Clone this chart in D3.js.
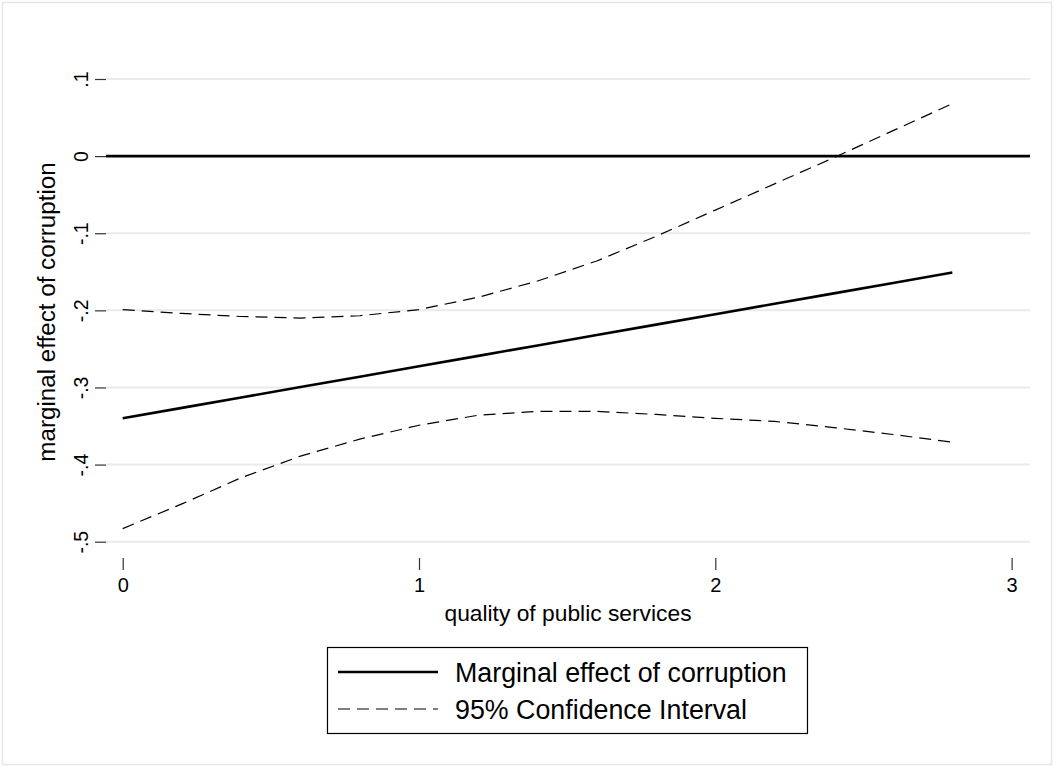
<!DOCTYPE html>
<html>
<head>
<meta charset="utf-8">
<script src="https://cdn.jsdelivr.net/npm/d3@7"></script>
<style>
  html, body { margin: 0; padding: 0; background: #fff; }
  svg { display: block; font-family: Arial, "Liberation Sans", Helvetica, sans-serif; }
</style>
</head>
<body>
<svg id="chart" width="1054" height="767"></svg>
<script>
// ---- data ----
const quality = [0, 0.2, 0.4, 0.6, 0.8, 1.0, 1.2, 1.4, 1.6, 1.8, 2.0, 2.2, 2.4, 2.6, 2.8];
const marginalEffect = [-0.340, -0.3265, -0.313, -0.2995, -0.286, -0.2725, -0.259, -0.2455, -0.232, -0.2185, -0.205, -0.1915, -0.178, -0.1645, -0.151];
const upperCI = [-0.199, -0.204, -0.208, -0.210, -0.207, -0.199, -0.183, -0.162, -0.136, -0.104, -0.070, -0.036, -0.002, 0.033, 0.068];
const lowerCI = [-0.483, -0.451, -0.417, -0.389, -0.367, -0.349, -0.336, -0.331, -0.331, -0.335, -0.340, -0.344, -0.352, -0.361, -0.371];
const xTicks = [0, 1, 2, 3];
const xTickLabels = ["0", "1", "2", "3"];
const yTicks = [-0.5, -0.4, -0.3, -0.2, -0.1, 0, 0.1];
const yTickLabels = ["-.5", "-.4", "-.3", "-.2", "-.1", "0", ".1"];
const xTitle = "quality of public services";
const yTitle = "marginal effect of corruption";
const legendLabels = ["Marginal effect of corruption", "95% Confidence Interval"];

// ---- layout ----
const svg = d3.select("#chart");
const W = 1054, H = 767;
const plotLeft = 106, plotRight = 1030;
const FONT = "Arial, 'Liberation Sans', Helvetica, sans-serif";

const x = d3.scaleLinear().domain([0, 3]).range([122.7, 1011.6]);
const y = d3.scaleLinear().domain([-0.5, 0.1]).range([541.7, 79]);

// outer frame
svg.append("rect").attr("x", 2.5).attr("y", 2.5).attr("width", W - 5).attr("height", H - 5)
  .attr("fill", "#fff").attr("stroke", "#e6e6e6").attr("stroke-width", 1.5);

// gridlines
svg.append("g").selectAll("line").data(yTicks.filter(v => v !== 0)).join("line")
  .attr("x1", plotLeft).attr("x2", plotRight)
  .attr("y1", d => y(d)).attr("y2", d => y(d))
  .attr("stroke", "#eaeaea").attr("stroke-width", 2);

// y axis (ticks + rotated labels)
const yAxis = d3.axisLeft(y).tickValues(yTicks)
  .tickFormat((d, i) => yTickLabels[i]).tickSize(11).tickPadding(0);
const gy = svg.append("g").attr("transform", `translate(${plotLeft},0)`).call(yAxis);
gy.select(".domain").remove();
gy.attr("font-family", FONT);
gy.selectAll(".tick line").attr("stroke", "#333").attr("stroke-width", 1.2);
gy.selectAll(".tick text")
  .attr("x", 0).attr("dy", null)
  .attr("transform", "translate(-18,0) rotate(-90)")
  .attr("text-anchor", "middle")
  .attr("font-size", 19.5).attr("fill", "#000");

// x axis
const xAxis = d3.axisBottom(x).tickValues(xTicks)
  .tickFormat((d, i) => xTickLabels[i]).tickSize(12);
const gx = svg.append("g").attr("transform", "translate(0,558)").call(xAxis);
gx.select(".domain").remove();
gx.attr("font-family", FONT);
gx.selectAll(".tick line").attr("stroke", "#333").attr("stroke-width", 1.2);
gx.selectAll(".tick text").attr("y", 34).attr("dy", null)
  .attr("font-size", 20).attr("fill", "#000");

// zero reference line
svg.append("line").attr("x1", plotLeft).attr("x2", plotRight)
  .attr("y1", y(0)).attr("y2", y(0))
  .attr("stroke", "#000").attr("stroke-width", 2.6);

// lines
const line = (vals) => d3.line().x((d, i) => x(quality[i])).y(d => y(d))(vals);
svg.append("path").attr("d", line(upperCI)).attr("fill", "none")
  .attr("stroke", "#000").attr("stroke-width", 1.2).attr("stroke-dasharray", "12,7");
svg.append("path").attr("d", line(lowerCI)).attr("fill", "none")
  .attr("stroke", "#000").attr("stroke-width", 1.2).attr("stroke-dasharray", "12,7");
svg.append("path").attr("d", line(marginalEffect)).attr("fill", "none")
  .attr("stroke", "#000").attr("stroke-width", 2.6);

// axis titles
svg.append("text").attr("x", 568).attr("y", 621).attr("text-anchor", "middle")
  .attr("font-family", FONT).attr("font-size", 22.8).text(xTitle);
svg.append("text").attr("transform", "translate(55,312) rotate(-90)")
  .attr("text-anchor", "middle").attr("font-family", FONT).attr("font-size", 24.2).text(yTitle);

// legend
const lg = svg.append("g");
lg.append("rect").attr("x", 327.5).attr("y", 647.5).attr("width", 480).attr("height", 86)
  .attr("fill", "#fff").attr("stroke", "#000").attr("stroke-width", 1.2);
lg.append("line").attr("x1", 338).attr("x2", 438).attr("y1", 672).attr("y2", 672)
  .attr("stroke", "#000").attr("stroke-width", 2.6);
lg.append("line").attr("x1", 338).attr("x2", 438).attr("y1", 709).attr("y2", 709)
  .attr("stroke", "#000").attr("stroke-width", 1.2).attr("stroke-dasharray", "12,7");
lg.selectAll("text.leg").data(legendLabels).join("text").attr("class", "leg")
  .attr("x", 455).attr("y", (d, i) => 681.5 + i * 37)
  .attr("font-family", FONT).attr("font-size", 26.8).text(d => d);
</script>
</body>
</html>
